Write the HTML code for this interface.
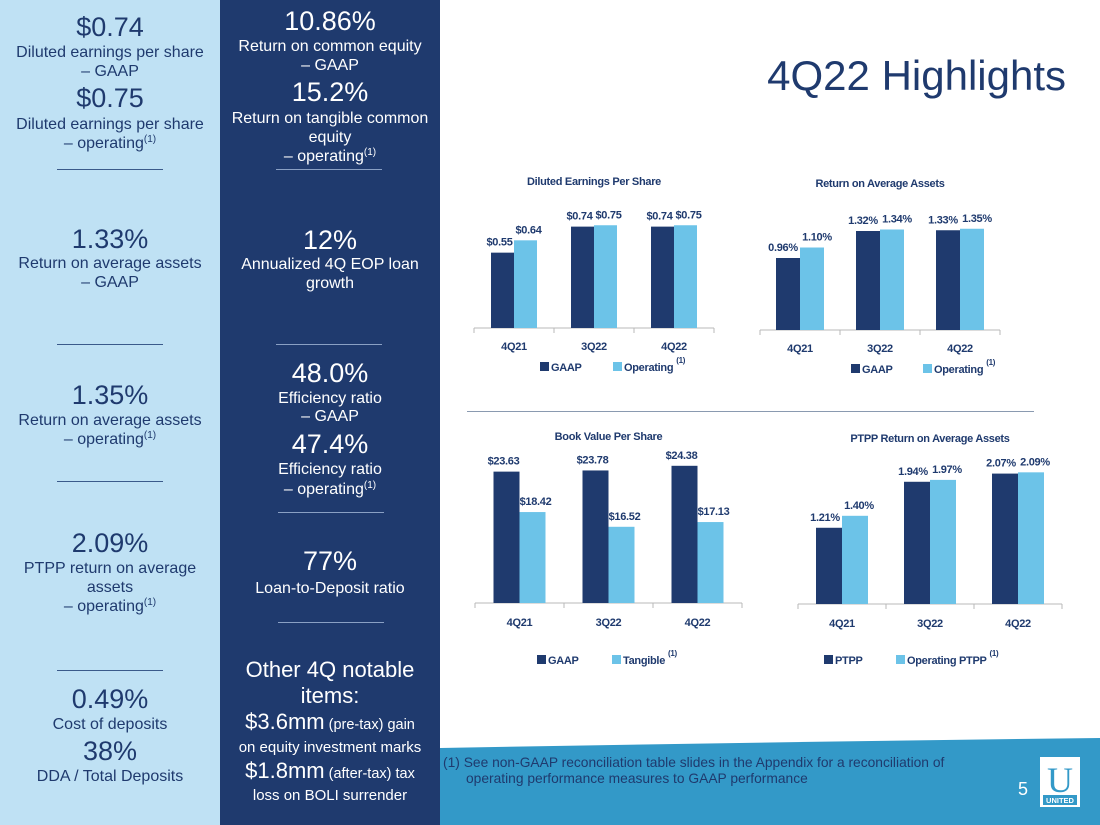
<!DOCTYPE html>
<html><head><meta charset="utf-8"><style>
html,body{margin:0;padding:0;background:#fff}
svg{display:block}
text{font-family:"Liberation Sans",Arial,sans-serif}
.c{font-family:"Liberation Sans",Arial,sans-serif;font-weight:bold;font-size:11px;letter-spacing:-0.3px;fill:#1f3a6e}
</style></head><body>
<svg id="page" width="1100" height="825" viewBox="0 0 1100 825" xmlns="http://www.w3.org/2000/svg">
<rect x="0" y="0" width="220" height="825" fill="#bfe1f4"/>
<rect x="220" y="0" width="220" height="825" fill="#1f3a6e"/>
<path d="M440 748 Q770 742 1100 738 L1100 825 L440 825 Z" fill="#3399c8"/>

<g fill="#1f3a6e" text-anchor="middle">
<text x="110" y="36" font-size="27">$0.74</text>
<text x="110" y="57" font-size="16">Diluted earnings per share</text>
<text x="110" y="76" font-size="16">– GAAP</text>
<text x="110" y="107" font-size="27">$0.75</text>
<text x="110" y="129" font-size="16">Diluted earnings per share</text>
<text x="110" y="148" font-size="16">– operating<tspan font-size="10" dy="-6">(1)</tspan></text>
<rect x="57" y="169" width="106" height="1" fill="#3a5a8a"/>
<text x="110" y="248" font-size="27">1.33%</text>
<text x="110" y="268" font-size="16">Return on average assets</text>
<text x="110" y="287" font-size="16">– GAAP</text>
<rect x="57" y="344" width="106" height="1" fill="#3a5a8a"/>
<text x="110" y="404" font-size="27">1.35%</text>
<text x="110" y="425" font-size="16">Return on average assets</text>
<text x="110" y="444" font-size="16">– operating<tspan font-size="10" dy="-6">(1)</tspan></text>
<rect x="57" y="481" width="106" height="1" fill="#3a5a8a"/>
<text x="110" y="552" font-size="27">2.09%</text>
<text x="110" y="573" font-size="16">PTPP return on average</text>
<text x="110" y="592" font-size="16">assets</text>
<text x="110" y="611" font-size="16">– operating<tspan font-size="10" dy="-6">(1)</tspan></text>
<rect x="57" y="670" width="106" height="1" fill="#3a5a8a"/>
<text x="110" y="708" font-size="27">0.49%</text>
<text x="110" y="729" font-size="16">Cost of deposits</text>
<text x="110" y="760" font-size="27">38%</text>
<text x="110" y="781" font-size="16">DDA / Total Deposits</text>
</g>

<g fill="#ffffff" text-anchor="middle">
<text x="330" y="30" font-size="27">10.86%</text>
<text x="330" y="51" font-size="16">Return on common equity</text>
<text x="330" y="70" font-size="16">– GAAP</text>
<text x="330" y="101" font-size="27">15.2%</text>
<text x="330" y="123" font-size="16">Return on tangible common</text>
<text x="330" y="142" font-size="16">equity</text>
<text x="330" y="161" font-size="16">– operating<tspan font-size="10" dy="-6">(1)</tspan></text>
<rect x="276" y="169" width="106" height="1" fill="#8aa0c4"/>
<text x="330" y="249" font-size="27">12%</text>
<text x="330" y="269" font-size="16">Annualized 4Q EOP loan</text>
<text x="330" y="288" font-size="16">growth</text>
<rect x="276" y="344" width="106" height="1" fill="#8aa0c4"/>
<text x="330" y="382" font-size="27">48.0%</text>
<text x="330" y="403" font-size="16">Efficiency ratio</text>
<text x="330" y="421" font-size="16">– GAAP</text>
<text x="330" y="453" font-size="27">47.4%</text>
<text x="330" y="474" font-size="16">Efficiency ratio</text>
<text x="330" y="494" font-size="16">– operating<tspan font-size="10" dy="-6">(1)</tspan></text>
<rect x="278" y="512" width="106" height="1" fill="#8aa0c4"/>
<text x="330" y="570" font-size="27">77%</text>
<text x="330" y="593" font-size="16">Loan-to-Deposit ratio</text>
<rect x="278" y="622" width="106" height="1" fill="#8aa0c4"/>
<text x="330" y="677" font-size="22">Other 4Q notable</text>
<text x="330" y="703" font-size="22">items:</text>
<text x="330" y="729"><tspan font-size="22">$3.6mm</tspan><tspan font-size="14.5"> (pre-tax) gain</tspan></text>
<text x="330" y="752" font-size="15">on equity investment marks</text>
<text x="330" y="778"><tspan font-size="22">$1.8mm</tspan><tspan font-size="14.5"> (after-tax) tax</tspan></text>
<text x="330" y="800" font-size="15">loss on BOLI surrender</text>
</g>

<text x="1066" y="90" font-size="42" fill="#1f3a6e" text-anchor="end">4Q22 Highlights</text>
<rect x="467" y="411" width="567" height="1" fill="#8a9ab0"/>

<g id="charts"></g>

<g fill="#1f3a6e" font-size="13.8">
<text x="443" y="767">(1)  See non-GAAP reconciliation table slides in the Appendix for a reconciliation of</text>
<text x="466" y="783">operating performance measures to GAAP performance</text>
</g>
<text x="1018" y="795" font-size="18" fill="#ffffff">5</text>
<g>
<rect x="1040" y="757" width="40" height="50" fill="#ffffff"/>
<text x="1060" y="792" font-size="36" fill="#3399c8" text-anchor="middle" style="font-family:'Liberation Serif',serif">U</text>
<rect x="1043" y="795" width="34" height="10" fill="#3399c8"/>
<text x="1060" y="803" font-size="7.5" font-weight="bold" fill="#fff" text-anchor="middle">UNITED</text>
</g>
</svg>
<script>
const categories = ["4Q21", "3Q22", "4Q22"];
const epsGaap = [0.55, 0.74, 0.74];
const epsOperating = [0.64, 0.75, 0.75];
const epsLabelsGaap = ["$0.55", "$0.74", "$0.74"];
const epsLabelsOperating = ["$0.64", "$0.75", "$0.75"];
const roaGaap = [0.96, 1.32, 1.33];
const roaOperating = [1.10, 1.34, 1.35];
const bvGaap = [23.63, 23.78, 24.38];
const bvTangible = [18.42, 16.52, 17.13];
const ptppVals = [1.21, 1.94, 2.07];
const ptppOperating = [1.40, 1.97, 2.09];

const NS = "http://www.w3.org/2000/svg";
const root = document.getElementById("charts");
function mk(tag, attrs, parent) {
  const e = document.createElementNS(NS, tag);
  for (const k in attrs) e.setAttribute(k, attrs[k]);
  (parent || root).appendChild(e);
  return e;
}
function chart(cfg) {
  const g = mk("g", {});
  
  
  const t = mk("text", {x: (cfg.x0 + cfg.x1) / 2, y: cfg.titleY, "text-anchor": "middle", class: "c"}, g);
  t.textContent = cfg.title;
  
  
  const step = (cfg.x1 - cfg.x0) / categories.length;
  const yScale = v => cfg.base - (v - cfg.min) * cfg.k;
  const ax = mk("line", {x1: cfg.x0, x2: cfg.x1, y1: cfg.base, y2: cfg.base, stroke: "#b8b8b8", "stroke-width": 1}, g);
  
  
  for (let i = 0; i <= categories.length; i++) {
    mk("line", {x1: cfg.x0 + i * step, x2: cfg.x0 + i * step, y1: cfg.base, y2: cfg.base + 5, stroke: "#b8b8b8"}, g);
  }
  const bw = cfg.bw;
  categories.forEach((c, i) => {
    const cx = cfg.x0 + step * (i + 0.5);
    [[cfg.s1, "#1f3a6e", cfg.f1, -1, -cfg.lo], [cfg.s2, "#6cc3e8", cfg.f2, 0, cfg.lo]].forEach(([arr, col, fmt, off, shift]) => {
      const v = arr[i];
      const y = yScale(v);
      const r = mk("rect", {x: cx + off * bw, y: y, width: bw, height: cfg.base - y, fill: col}, g);
      
      
      const l = mk("text", {x: cx + off * bw + bw / 2 + shift, y: y - 7, "text-anchor": "middle", class: "c"}, g);
      l.textContent = fmt(v, i);
      
      
    });
    const tl = mk("text", {x: cx, y: cfg.base + cfg.tickOff, "text-anchor": "middle", class: "c"}, g);
    tl.textContent = c;
    
    
  });
  cfg.legend.forEach(([lbl, col, lx, sup]) => {
    const le = mk("g", {}, g);
    
    
    mk("rect", {x: lx, y: cfg.legY - 9, width: 9, height: 9, fill: col}, le);
    const tx = mk("text", {x: lx + 11, y: cfg.legY, class: "c"}, le);
    tx.textContent = lbl;
    if (sup) {
      const s = mk("tspan", {"font-size": "8", dx: "3", dy: "-8"}, tx);
      s.textContent = "(1)";
    }
  });
}
const money = v => "$" + v.toFixed(2);
const pct = v => v.toFixed(2) + "%";
chart({name: "eps-chart", title: "Diluted Earnings Per Share", titleY: 185, x0: 474, x1: 714, base: 328, min: 0, k: 137, bw: 23, lo: 3,
  s1: epsGaap, s2: epsOperating, f1: (v, i) => epsLabelsGaap[i], f2: (v, i) => epsLabelsOperating[i], tickOff: 22,
  legY: 371, legend: [["GAAP", "#1f3a6e", 540], ["Operating", "#6cc3e8", 613, true]]});
chart({name: "roa-chart", title: "Return on Average Assets", titleY: 187, x0: 760, x1: 1000, base: 330, min: 0, k: 75, bw: 24, lo: 5,
  s1: roaGaap, s2: roaOperating, f1: pct, f2: pct, tickOff: 22,
  legY: 373, legend: [["GAAP", "#1f3a6e", 851], ["Operating", "#6cc3e8", 923, true]]});
chart({name: "book-value-chart", title: "Book Value Per Share", titleY: 440, x0: 475, x1: 742, base: 603, min: 6.7, k: 7.76, bw: 26, lo: 3,
  s1: bvGaap, s2: bvTangible, f1: money, f2: money, tickOff: 23,
  legY: 664, legend: [["GAAP", "#1f3a6e", 537], ["Tangible", "#6cc3e8", 612, true]]});
chart({name: "ptpp-roa-chart", title: "PTPP Return on Average Assets", titleY: 442, x0: 798, x1: 1062, base: 604, min: 0, k: 63, bw: 26, lo: 4,
  s1: ptppVals, s2: ptppOperating, f1: pct, f2: pct, tickOff: 23,
  legY: 664, legend: [["PTPP", "#1f3a6e", 824], ["Operating PTPP", "#6cc3e8", 896, true]]});
</script>
</body></html>
